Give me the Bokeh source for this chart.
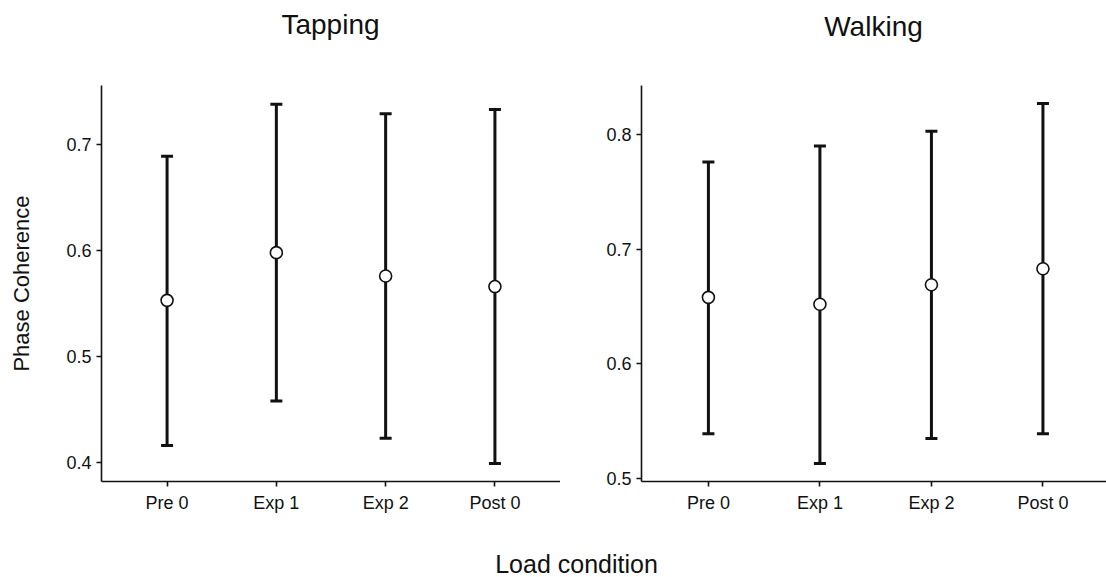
from bokeh.plotting import figure
from bokeh.models import (ColumnDataSource, Whisker, TeeHead, Range1d,
                          FixedTicker)
from bokeh.layouts import column, row
from bokeh.embed import file_html
from bokeh.resources import INLINE
from bokeh.core.properties import value

# ---- data -------------------------------------------------------------
conditions = ["Pre 0", "Exp 1", "Exp 2", "Post 0"]

tapping_mean = [0.553, 0.598, 0.576, 0.566]
tapping_upper = [0.689, 0.738, 0.729, 0.733]
tapping_lower = [0.416, 0.458, 0.423, 0.399]

walking_mean = [0.658, 0.652, 0.669, 0.683]
walking_upper = [0.776, 0.790, 0.803, 0.827]
walking_lower = [0.539, 0.513, 0.535, 0.539]

tapping_ticks = [0.4, 0.5, 0.6, 0.7]
walking_ticks = [0.5, 0.6, 0.7, 0.8]

panel_titles = ["Tapping", "Walking"]

FONT = "Liberation Sans"
INK = "#111111"
HEADER_H = 60
CAPTION_H = 46


def blank(width, height):
    """A bare canvas used for free-standing text (titles, captions)."""
    f = figure(width=width, height=height, output_backend="svg",
               toolbar_location=None, x_range=Range1d(0, width),
               y_range=Range1d(0, height))
    f.min_border_left = f.min_border_right = 0
    f.min_border_top = f.min_border_bottom = 0
    f.axis.visible = False
    f.xgrid.visible = False
    f.ygrid.visible = False
    f.outline_line_color = None
    return f


def panel(means, uppers, lowers, yticks, y_range, x_end,
          width, border_left, border_top, ylabel=None):
    pos = list(range(1, len(conditions) + 1))
    src = ColumnDataSource(dict(x=pos, mean=means, upper=uppers, lower=lowers))

    p = figure(width=width, height=531 - HEADER_H, output_backend="svg",
               toolbar_location=None, x_range=Range1d(0.4, x_end),
               y_range=Range1d(*y_range))
    p.min_border_left = border_left
    p.min_border_right = 0
    p.min_border_top = border_top
    p.min_border_bottom = 50
    p.outline_line_color = None
    p.background_fill_color = "white"
    p.border_fill_color = "white"
    p.xgrid.visible = False
    p.ygrid.visible = False

    for ax in (p.xaxis[0], p.yaxis[0]):
        ax.axis_line_width = 1.6
        ax.axis_line_color = INK
        ax.major_tick_line_color = INK
        ax.major_tick_line_width = 1.6
        ax.major_tick_out = 5
        ax.major_tick_in = 0
        ax.minor_tick_line_color = None
        ax.major_label_text_font = FONT
        ax.major_label_text_font_size = "18px"
        ax.major_label_text_color = INK
        ax.major_label_standoff = 5

    p.xaxis.ticker = FixedTicker(ticks=pos)
    p.xaxis.major_label_overrides = {i: c for i, c in zip(pos, conditions)}
    p.xaxis.major_label_standoff = 6
    p.yaxis.ticker = FixedTicker(ticks=yticks)

    if ylabel:
        p.yaxis.axis_label = ylabel
        p.yaxis.axis_label_text_font = FONT
        p.yaxis.axis_label_text_font_size = "22px"
        p.yaxis.axis_label_text_font_style = "normal"
        p.yaxis.axis_label_text_color = INK
        p.yaxis.axis_label_standoff = 29

    err = Whisker(source=src, base="x", upper="upper", lower="lower",
                  line_width=3, line_color=INK,
                  upper_head=TeeHead(size=12, line_width=3, line_color=INK),
                  lower_head=TeeHead(size=12, line_width=3, line_color=INK))
    p.add_layout(err)

    p.scatter("x", "mean", source=src, size=12, fill_color="white",
              line_color=INK, line_width=1.6)
    return p


left = panel(tapping_mean, tapping_upper, tapping_lower,
             tapping_ticks, (0.3821, 0.7557), 4.6, 560, 101, 85 - HEADER_H,
             ylabel="Phase Coherence")
right = panel(walking_mean, walking_upper, walking_lower,
              walking_ticks, (0.4974, 0.8428), 4.57, 546, 81, 78 - HEADER_H)

# panel titles, centred over each plotting frame
header = blank(1106, HEADER_H)
header.text(x=[330, 873], y=[HEADER_H - 24, HEADER_H - 25.5], text=panel_titles,
            text_font=value(FONT), text_font_size="28px", text_align="center",
            text_baseline="middle", text_color=INK)

# shared x-axis caption beneath both panels
cap = blank(1106, CAPTION_H)
cap.text(x=[576], y=[14], text=["Load condition"], text_font=value(FONT),
         text_font_size="25px", text_align="center",
         text_baseline="middle", text_color=INK)

layout = column(header, row(left, right, spacing=0), cap, spacing=0)

open("out.html", "w").write(file_html(layout, INLINE))
